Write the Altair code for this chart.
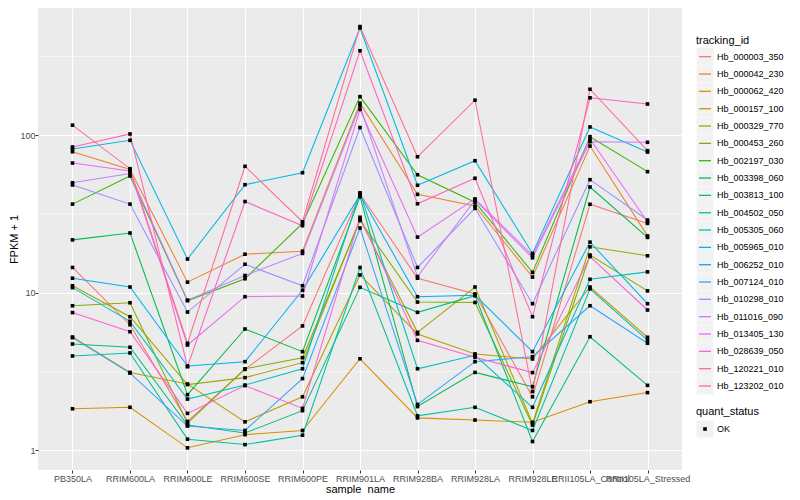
import altair as alt
import pandas as pd

samples = ["PB350LA", "RRIM600LA", "RRIM600LE", "RRIM600SE", "RRIM600PE", "RRIM901LA",
           "RRIM928BA", "RRIM928LA", "RRIM928LE", "RRII105LA_Control", "RRII105LA_Stressed"]

tracking_ids = ["Hb_000003_350", "Hb_000042_230", "Hb_000062_420", "Hb_000157_100",
                "Hb_000329_770", "Hb_000453_260", "Hb_002197_030", "Hb_003398_060",
                "Hb_003813_100", "Hb_004502_050", "Hb_005305_060", "Hb_005965_010",
                "Hb_006252_010", "Hb_007124_010", "Hb_010298_010", "Hb_011016_090",
                "Hb_013405_130", "Hb_028639_050", "Hb_120221_010", "Hb_123202_010"]

# FPKM + 1 per sample (same order as samples)
hb_000003_350 = [14.5, 6.28, 1.53, 3.27, 6.17, 42.4, 12.4, 9.84, 2.19, 36.5, 27.6]
hb_000042_230 = [78.7, 60.7, 11.7, 17.6, 18.4, 160, 42.2, 35.6, 12.6, 85.5, 23.0]
hb_000062_420 = [1.84, 1.88, 1.04, 1.26, 1.34, 3.82, 1.61, 1.56, 1.51, 2.04, 2.33]
hb_000157_100 = [5.25, 3.13, 2.64, 1.52, 2.19, 13.0, 5.49, 4.10, 3.81, 10.9, 5.23]
hb_000329_770 = [11.1, 7.06, 2.62, 2.90, 3.61, 29.3, 5.62, 10.9, 1.49, 19.6, 17.2]
hb_000453_260 = [8.29, 8.66, 1.49, 3.30, 3.88, 28.8, 8.75, 8.70, 1.45, 17.4, 10.3]
hb_002197_030 = [36.6, 55.2, 8.92, 12.3, 27.6, 176, 56.2, 37.6, 13.5, 98.0, 58.8]
hb_003398_060 = [21.7, 24.0, 2.26, 5.90, 4.24, 40.8, 1.90, 3.13, 2.54, 47.0, 22.5]
hb_003813_100 = [4.74, 4.52, 1.45, 1.29, 1.79, 10.85, 7.53, 9.60, 1.14, 5.27, 2.59]
hb_004502_050 = [3.98, 4.16, 1.18, 1.09, 1.25, 14.5, 1.66, 1.88, 1.34, 10.6, 5.02]
hb_005305_060 = [10.8, 6.60, 2.12, 2.60, 3.30, 43.2, 3.30, 4.02, 1.88, 12.2, 13.6]
hb_005965_010 = [81.9, 93.0, 16.4, 48.6, 57.9, 480, 48.2, 69.0, 17.8, 113, 78.3]
hb_006252_010 = [12.4, 10.9, 3.44, 3.66, 10.4, 42.0, 9.46, 9.65, 4.24, 21.0, 8.54]
hb_007124_010 = [5.20, 3.10, 1.43, 1.34, 2.86, 25.8, 1.96, 3.66, 3.94, 8.29, 4.79]
hb_010298_010 = [48.4, 36.6, 7.56, 15.2, 11.1, 112, 14.5, 34.4, 8.54, 52.3, 29.0]
hb_011016_090 = [50.0, 57.2, 9.00, 12.9, 17.8, 154, 12.7, 38.9, 16.7, 91.1, 90.3]
hb_013405_130 = [66.7, 59.4, 4.67, 9.46, 9.56, 146, 22.6, 39.5, 17.3, 94.7, 28.3]
hb_028639_050 = [7.50, 5.67, 1.72, 2.58, 1.85, 30.2, 5.00, 3.90, 3.12, 17.0, 7.79]
hb_120221_010 = [84.3, 102, 3.40, 38.0, 26.7, 344, 36.8, 53.4, 7.06, 173, 158]
hb_123202_010 = [116, 61.4, 4.79, 63.6, 28.3, 490, 73.1, 167, 2.37, 196, 79.9]

hue_colors = ["#F8766D", "#EA8331", "#D89000", "#C09B00", "#A3A500", "#7CAE00", "#39B600",
              "#00BB4E", "#00BF7D", "#00C1A3", "#00BFC4", "#00BAE0", "#00B0F6", "#35A2FF",
              "#9590FF", "#C77CFF", "#E76BF3", "#FA62DB", "#FF62BC", "#FF6C91"]

major_breaks = [1, 10, 100]
minor_breaks = [3.162, 31.62, 316.2]
quant_levels = ["OK"]

series_values = [hb_000003_350, hb_000042_230, hb_000062_420, hb_000157_100, hb_000329_770,
                 hb_000453_260, hb_002197_030, hb_003398_060, hb_003813_100, hb_004502_050,
                 hb_005305_060, hb_005965_010, hb_006252_010, hb_007124_010, hb_010298_010,
                 hb_011016_090, hb_013405_130, hb_028639_050, hb_120221_010, hb_123202_010]

rows = []
for tid, vals in zip(tracking_ids, series_values):
    for i, (s, v) in enumerate(zip(samples, vals)):
        rows.append({"tracking_id": tid, "sample_name": s, "ord": i,
                     "fpkm": v, "quant_status": "OK"})
df = pd.DataFrame(rows)

FONT = "Liberation Sans"
PANEL_H = 462
color_scale = alt.Scale(domain=tracking_ids, range=hue_colors)
y_scale = alt.Scale(type="log", domain=[0.752, 642.5], nice=False)

x_enc = alt.X("sample_name:N", sort=samples,
              scale=alt.Scale(type="point", padding=0.6),
              axis=alt.Axis(title="sample_name", labelAngle=0, labelOverlap=False,
                            grid=True, gridColor="white", gridWidth=1.1, domain=False,
                            tickColor="#333333", tickSize=3, tickWidth=1,
                            labelColor="#4D4D4D", labelFontSize=9, labelFont=FONT,
                            labelPadding=1, titleFont=FONT, titleFontSize=11,
                            titleFontWeight="normal", titleColor="black", titlePadding=0))
y_enc = alt.Y("fpkm:Q", scale=y_scale,
              axis=alt.Axis(title="FPKM + 1", values=major_breaks, format="d",
                            grid=True, gridColor="white", gridWidth=1.1, domain=False,
                            tickColor="#333333", tickSize=3, tickWidth=1,
                            labelColor="#4D4D4D", labelFontSize=9, labelFont=FONT,
                            labelPadding=0, titleFont=FONT, titleFontSize=11,
                            titleFontWeight="normal", titleColor="black", titlePadding=0))

minor = alt.Chart(pd.DataFrame({"fpkm": minor_breaks})).mark_rule(
    color="white", strokeWidth=0.55).encode(y=alt.Y("fpkm:Q", scale=y_scale))

lines = alt.Chart(df).mark_line(strokeWidth=1.05).encode(
    x=x_enc, y=y_enc,
    color=alt.Color("tracking_id:N", scale=color_scale, legend=None),
    order=alt.Order("ord:Q"))

points = alt.Chart(df).mark_square(size=13, color="black", opacity=1).encode(
    x=x_enc, y=y_enc)

main = alt.layer(minor, lines, points).properties(
    width=644, height=PANEL_H,
    view=alt.ViewBackground(fill="#EBEBEB", stroke=None))

# legend panel: entries placed through a linear scale over their rank
leg_df = pd.DataFrame({"tracking_id": tracking_ids,
                       "rank": list(range(len(tracking_ids)))})
ly = alt.Y("rank:Q", scale=alt.Scale(domain=[-2.81, 23.845], reverse=True, nice=False,
                                     zero=False), axis=None)
boxes = alt.Chart(leg_df).mark_square(size=289, color="#F2F2F2", opacity=1).encode(
    x=alt.value(15), y=ly)
keys = alt.Chart(leg_df).mark_rule(strokeWidth=1.3).encode(
    x=alt.value(9), x2=alt.value(21), y=ly,
    color=alt.Color("tracking_id:N", scale=color_scale, legend=None))
labels = alt.Chart(leg_df).mark_text(align="left", baseline="middle", fontSize=9,
                                     font=FONT, color="black").encode(
    x=alt.value(27), y=ly, text="tracking_id:N")
title_df = pd.DataFrame({"t": ["tracking_id"]})
title1 = alt.Chart(title_df).mark_text(align="left", baseline="middle", fontSize=11,
                                       font=FONT, color="black").encode(
    x=alt.value(6), y=alt.value(33), text="t:N")

q_df = pd.DataFrame({"quant_status": quant_levels})
qtitle_df = pd.DataFrame({"t": ["quant_status"]})
title2 = alt.Chart(qtitle_df).mark_text(align="left", baseline="middle", fontSize=11,
                                        font=FONT, color="black").encode(
    x=alt.value(6), y=alt.value(404), text="t:N")
qbox = alt.Chart(q_df).mark_square(size=289, color="#F2F2F2", opacity=1).encode(
    x=alt.value(15), y=alt.value(421))
qpt = alt.Chart(q_df).mark_square(size=13, color="black", opacity=1).encode(
    x=alt.value(15), y=alt.value(421))
qlab = alt.Chart(q_df).mark_text(align="left", baseline="middle", fontSize=9,
                                 font=FONT, color="black").encode(
    x=alt.value(27), y=alt.value(421), text="quant_status:N")

legend = alt.layer(boxes, keys, labels, title1, title2, qbox, qpt, qlab).properties(
    width=95, height=PANEL_H, view=alt.ViewBackground(fill="white", stroke=None))

chart = alt.hconcat(main, legend, spacing=8).resolve_scale(
    x="independent", y="independent", color="independent").properties(
    bounds="flush", padding={"left": 0, "top": 0, "right": 0, "bottom": 0}
).configure(font=FONT).configure_view(stroke=None)

chart.save("out.html", embed_options={"renderer": "svg", "actions": False})
